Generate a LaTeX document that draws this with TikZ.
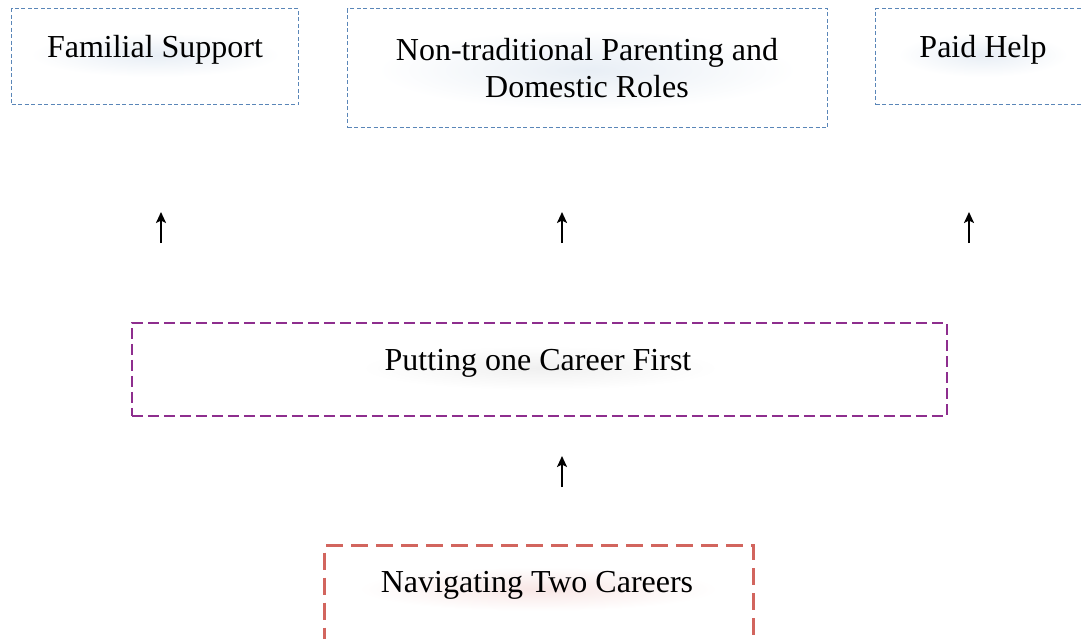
\documentclass[tikz,border=0pt]{standalone}
\usepackage{fontspec}
\setmainfont{Liberation Serif}
\usetikzlibrary{arrows.meta,shapes.geometric}
\definecolor{boxblue}{HTML}{5A86B8}
\definecolor{boxpurple}{HTML}{8E2E8E}
\definecolor{boxred}{HTML}{D2655E}
\begin{document}
\begin{tikzpicture}[x=1pt,y=-1pt,
  bluebox/.style={draw=boxblue,line width=1.3pt,dash pattern=on 4pt off 2.5pt,anchor=north west,inner sep=0pt},
  purplebox/.style={draw=boxpurple,line width=1.6pt,dash pattern=on 11pt off 5pt,anchor=north west,inner sep=0pt},
  redbox/.style={draw=boxred,line width=3pt,dash pattern=on 17pt off 8pt,anchor=north west,inner sep=0pt},
  label/.style={font=\fontsize{32}{37}\selectfont,align=center,inner sep=0pt},
  glow/.style={ellipse,inner color=#1,outer color=white,minimum height=44pt,inner sep=0pt},
  arr/.style={line width=2.6pt,-{Stealth[length=11pt,width=10pt,inset=2.5pt]}}]
\useasboundingbox (0,0) rectangle (1083,638);
\fill[white] (0,0) rectangle (1083,638);

% top row
\node[bluebox,minimum width=287pt,minimum height=96pt] (fam) at (11,8) {};
\node[bluebox,minimum width=480pt,minimum height=119pt] (ntp) at (347,8) {};
\node[bluebox,minimum width=230pt,minimum height=96pt] (paid) at (875,8) {};

% soft halos behind the labels
\node[glow=boxblue!14,minimum width=250pt] at (155,55) {};
\node[glow=boxblue!14,minimum width=420pt,minimum height=80pt] at (587,70) {};
\node[glow=boxblue!14,minimum width=170pt] at (983,55) {};
\node[glow=black!6,minimum width=360pt] at (540,368) {};
\node[glow=boxred!16,minimum width=360pt] at (538,589) {};

\node[label] (famt) at (155,50) {Familial Support};
\node[label] (ntpt) at (587,68) {Non-traditional Parenting and\\Domestic Roles};
\node[label] (paidt) at (983,50) {Paid Help};

% middle and bottom
\node[purplebox,minimum width=815pt,minimum height=93pt] (first) at (131,322) {};
\node[label] (firstt) at (538,363) {Putting one Career First};
\node[redbox,minimum width=429pt,minimum height=110pt] (two) at (323,544) {};
\node[label] (twot) at (537,585) {Navigating Two Careers};

% arrows
\coordinate (a1s) at (161,243); \coordinate (a1e) at (161,212);
\coordinate (a2s) at (562,243); \coordinate (a2e) at (562,212);
\coordinate (a3s) at (969,243); \coordinate (a3e) at (969,212);
\coordinate (a4s) at (562,487); \coordinate (a4e) at (562,456);
\draw[arr] (a1s) -- (a1e);
\draw[arr] (a2s) -- (a2e);
\draw[arr] (a3s) -- (a3e);
\draw[arr] (a4s) -- (a4e);
\end{tikzpicture}
\end{document}
